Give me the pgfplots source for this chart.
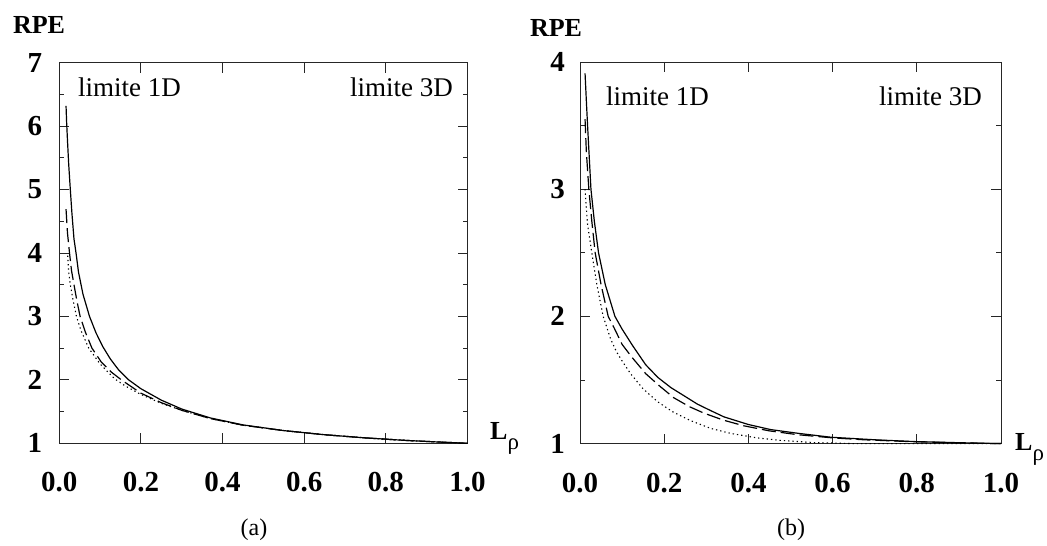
\documentclass[border=0pt]{standalone}
\usepackage{pgfplots}
\pgfplotsset{compat=1.18}
\usepackage{fontspec}
\setmainfont{Liberation Serif}

\pgfplotsset{
  rpe/.style={
    scale only axis,
    axis line style={black!85, line width=0.9pt},
    tick style={black!85, line width=0.9pt},
    major tick length=10pt,
    minor tick length=5pt,
    tick align=inside,
    tick pos=both,
    xmin=0, xmax=1,
    xtick={0,0.2,0.4,0.6,0.8,1},
    xticklabels={0.0,0.2,0.4,0.6,0.8,1.0},
    minor y tick num=1,
    tick label style={font=\bfseries\fontsize{29}{29}\selectfont, inner sep=0pt},
    xticklabel style={anchor=north, yshift=-29pt},
    clip=false,
  },
  solidc/.style={black, line width=1.2pt},
  dashc/.style={black, line width=1.2pt, dash pattern=on 14pt off 5pt},
  dotc/.style={black, line width=1.1pt, dash pattern=on 1.3pt off 3pt},
}

\begin{document}
\begin{tikzpicture}
\useasboundingbox (0,0) rectangle (1047pt,546pt);

% ---------------- (a) ----------------
\begin{axis}[rpe,
  at={(59.3pt,102.7pt)}, anchor=south west,
  width=408.2pt, height=380.6pt,
  ymin=1, ymax=7,
  ytick={1,2,3,4,5,6,7},
  yticklabels={1,2,3,4,5,6,7},
  yticklabel style={anchor=east, xshift=-17pt},
]
\addplot[solidc] coordinates {
(0.0165,6.32)(0.018,6.05)(0.02,5.78)(0.023,5.4)(0.027,5.0)(0.031,4.62)(0.036,4.22)
(0.041,4.0)(0.047,3.7)(0.058,3.35)(0.074,3.0)(0.09,2.74)(0.106,2.53)(0.125,2.33)
(0.145,2.16)(0.17,2.0)(0.2,1.86)(0.25,1.68)(0.3,1.54)(0.37,1.4)(0.45,1.29)
(0.55,1.2)(0.65,1.135)(0.75,1.085)(0.85,1.045)(0.93,1.02)(1.0,1.0)};
\addplot[dashc] coordinates {
(0.0165,4.69)(0.02,4.32)(0.025,4.0)(0.03,3.72)(0.036,3.5)(0.043,3.25)(0.051,3.0)
(0.064,2.75)(0.08,2.5)(0.103,2.28)(0.128,2.12)(0.152,2.0)(0.2,1.79)(0.25,1.64)
(0.3,1.52)(0.37,1.39)(0.45,1.285)(0.55,1.2)(0.65,1.135)(0.75,1.085)(0.85,1.045)
(0.93,1.02)(1.0,1.0)};
\addplot[dotc] coordinates {
(0.0205,3.96)(0.023,3.7)(0.027,3.5)(0.034,3.25)(0.042,3.0)(0.053,2.78)(0.072,2.5)
(0.1,2.25)(0.135,2.02)(0.16,1.91)(0.2,1.77)(0.25,1.63)(0.3,1.52)(0.37,1.39)
(0.45,1.285)(0.55,1.2)(0.65,1.135)(0.75,1.085)(0.85,1.045)(0.93,1.02)(1.0,1.0)};
\end{axis}

% ---------------- (b) ----------------
\begin{axis}[rpe,
  at={(580pt,102.4pt)}, anchor=south west,
  width=421pt, height=381.6pt,
  ymin=1, ymax=4,
  ytick={1,2,3,4},
  yticklabels={1,2,3,4},
  yticklabel style={anchor=east, xshift=-15pt},
]
\addplot[solidc] coordinates {
(0.012,3.91)(0.015,3.7)(0.018,3.5)(0.022,3.25)(0.026,3.0)(0.034,2.75)(0.044,2.5)
(0.06,2.25)(0.083,2.0)(0.1,1.9)(0.125,1.77)(0.156,1.62)(0.185,1.52)(0.216,1.44)
(0.25,1.37)(0.279,1.31)(0.31,1.26)(0.342,1.21)(0.4,1.15)(0.453,1.11)(0.52,1.08)
(0.596,1.05)(0.7,1.03)(0.793,1.016)(0.9,1.007)(1.0,1.0)};
\addplot[dashc] coordinates {
(0.012,3.55)(0.015,3.3)(0.018,3.15)(0.021,3.0)(0.028,2.75)(0.036,2.5)(0.05,2.25)
(0.067,2.0)(0.081,1.91)(0.1,1.78)(0.123,1.68)(0.156,1.55)(0.19,1.45)(0.223,1.36)
(0.26,1.29)(0.294,1.24)(0.34,1.185)(0.389,1.14)(0.45,1.1)(0.517,1.07)(0.6,1.045)
(0.675,1.03)(0.79,1.015)(0.9,1.006)(1.0,1.0)};
\addplot[dotc] coordinates {
(0.012,3.0)(0.014,2.9)(0.018,2.72)(0.028,2.5)(0.04,2.25)(0.055,2.0)(0.073,1.82)
(0.087,1.72)(0.1,1.65)(0.12,1.55)(0.15,1.43)(0.184,1.33)(0.22,1.25)(0.263,1.18)
(0.31,1.12)(0.358,1.08)(0.42,1.045)(0.477,1.025)(0.556,1.008)(0.65,1.0)(1.0,1.0)};
\end{axis}

% ---------------- texts ----------------
\node[font=\bfseries\fontsize{26}{26}\selectfont, inner sep=0pt] at (39pt,521.5pt) {RPE};
\node[font=\bfseries\fontsize{26}{26}\selectfont, inner sep=0pt] at (556pt,518.3pt) {RPE};

\node[font=\fontsize{27}{27}\selectfont, inner sep=0pt, anchor=base west] at (78pt,449.3pt) {limite 1D};
\node[font=\fontsize{27}{27}\selectfont, inner sep=0pt, anchor=base east] at (453pt,449.3pt) {limite 3D};
\node[font=\fontsize{27}{27}\selectfont, inner sep=0pt, anchor=base west] at (606pt,440.7pt) {limite 1D};
\node[font=\fontsize{27}{27}\selectfont, inner sep=0pt, anchor=base east] at (982pt,440.7pt) {limite 3D};

\node[font=\bfseries\fontsize{26}{26}\selectfont, inner sep=0pt, anchor=base west] at (490pt,106pt)
  {L\raisebox{-0.38em}{\mdseries\fontsize{23}{23}\selectfont ρ}};
\node[font=\bfseries\fontsize{26}{26}\selectfont, inner sep=0pt, anchor=base west] at (1015pt,95pt)
  {L\raisebox{-0.38em}{\mdseries\fontsize{23}{23}\selectfont ρ}};

\node[font=\fontsize{24}{24}\selectfont, inner sep=0pt] at (254pt,16pt) {(a)};
\node[font=\fontsize{24}{24}\selectfont, inner sep=0pt] at (791pt,16pt) {(b)};
\end{tikzpicture}
\end{document}
